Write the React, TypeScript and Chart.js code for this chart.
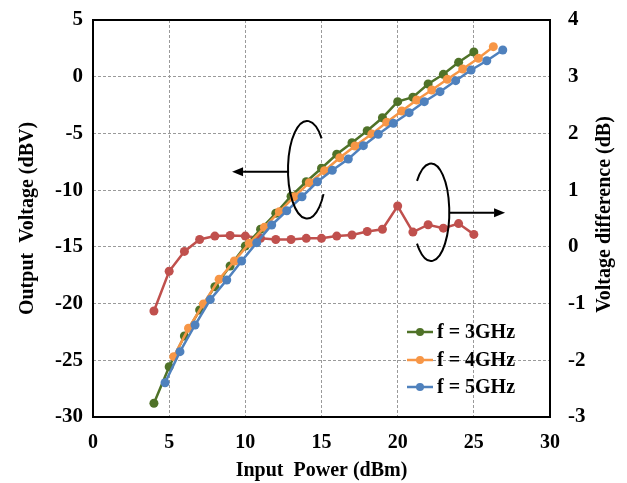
import React, { useEffect, useRef } from 'react';
import { Chart, registerables } from 'chart.js';

Chart.register(...registerables);

// ---- data ----
const xGreen = [4, 5, 6, 7, 8, 9, 10, 11, 12, 13, 14, 15, 16, 17, 18, 19, 20, 21, 22, 23, 24, 25];
const yGreen = [-28.79, -25.57, -22.86, -20.57, -18.51, -16.69, -14.92, -13.45, -12.04, -10.53, -9.26, -8.07, -6.84, -5.82, -4.76, -3.62, -2.2, -1.81, -0.64, 0.21, 1.27, 2.18];

const xOrange = [5.3, 6.27, 7.25, 8.28, 9.28, 10.26, 11.25, 12.23, 13.22, 14.2, 15.2, 16.2, 17.2, 18.3, 19.28, 20.27, 21.25, 22.24, 23.26, 24.27, 25.3, 26.28];
const yOrange = [-24.68, -22.18, -20.04, -17.86, -16.25, -14.69, -13.28, -11.9, -10.58, -9.34, -8.29, -7.14, -6.11, -5.06, -4.02, -3.02, -2.05, -1.17, -0.23, 0.68, 1.62, 2.65];

const xBlue = [4.73, 5.71, 6.7, 7.7, 8.78, 9.76, 10.75, 11.73, 12.72, 13.72, 14.73, 15.71, 16.76, 17.75, 18.73, 19.72, 20.75, 21.75, 22.78, 23.81, 24.82, 25.85, 26.9];
const yBlue = [-26.98, -24.24, -21.89, -19.65, -17.92, -16.25, -14.63, -13.07, -11.82, -10.58, -9.26, -8.25, -7.25, -6.08, -5.07, -4.11, -3.17, -2.2, -1.32, -0.35, 0.59, 1.41, 2.36];

const xRed = [4, 5, 6, 7, 8, 9, 10, 11, 12, 13, 14, 15, 16, 17, 18, 19, 20, 21, 22, 23, 24, 25];
const yRed = [-1.13, -0.43, -0.08, 0.13, 0.19, 0.2, 0.19, 0.15, 0.13, 0.13, 0.15, 0.15, 0.19, 0.21, 0.27, 0.31, 0.72, 0.26, 0.39, 0.33, 0.41, 0.22];

const seriesLabels = ['f = 3GHz', 'f = 4GHz', 'f = 5GHz'];
const xTitle = 'Input  Power (dBm)';
const yTitle = 'Output  Voltage (dBV)';
const y1Title = 'Voltage difference (dB)';

const COLORS = ['#4F7228', '#F79646', '#4F81BD'];
const RED = '#C0504D';
const FONT = '"Liberation Serif", "Times New Roman", serif';

const pts = (xs: number[], ys: number[]) => xs.map((x, i) => ({ x, y: ys[i] }));

const deg = Math.PI / 180;

function arrow(ctx: CanvasRenderingContext2D, x0: number, y0: number, x1: number, y1: number) {
  const dir = Math.sign(x1 - x0);
  const head = 11;
  ctx.beginPath();
  ctx.moveTo(x0, y0);
  ctx.lineTo(x1 - dir * head, y1);
  ctx.stroke();
  ctx.beginPath();
  ctx.moveTo(x1, y1);
  ctx.lineTo(x1 - dir * head, y1 - 4.5);
  ctx.lineTo(x1 - dir * head, y1 + 4.5);
  ctx.closePath();
  ctx.fill();
}

const decorPlugin = {
  id: 'decor',
  afterDatasetsDraw(chart: any) {
    const { ctx, chartArea: a, scales } = chart;
    const sx = scales.x, sy = scales.y, sy1 = scales.y1;
    ctx.save();
    // frame
    ctx.strokeStyle = '#000';
    ctx.lineWidth = 2;
    ctx.strokeRect(a.left, a.top, a.right - a.left, a.bottom - a.top);

    ctx.fillStyle = '#000';
    // left ellipse + arrow (left axis)
    {
      const cx = sx.getPixelForValue(14.05);
      const cy = sy.getPixelForValue(-8.2);
      const rx = sx.getPixelForValue(14.05 + 1.25) - cx;
      const ry = sy.getPixelForValue(-8.2 - 4.3) - cy;
      ctx.beginPath();
      ctx.ellipse(cx, cy, rx, ry, 0, -40 * deg, 30 * deg, true);
      ctx.stroke();
      const ay = sy.getPixelForValue(-8.37);
      arrow(ctx, sx.getPixelForValue(12.87), ay, sx.getPixelForValue(9.13), ay);
    }
    // right ellipse + arrow (right axis)
    {
      const cx = sx.getPixelForValue(22.19);
      const cy = sy1.getPixelForValue(0.61);
      const rx = sx.getPixelForValue(22.19 + 1.2) - cx;
      const ry = sy1.getPixelForValue(0.61 - 0.86) - cy;
      ctx.beginPath();
      ctx.ellipse(cx, cy, rx, ry, 0, -140 * deg, 140 * deg, false);
      ctx.stroke();
      const ay = sy1.getPixelForValue(0.6);
      arrow(ctx, sx.getPixelForValue(23.37), ay, sx.getPixelForValue(27.05), ay);
    }

    // legend
    const ds = chart.data.datasets;
    ctx.font = `bold 20px ${FONT}`;
    ctx.textBaseline = 'middle';
    ctx.textAlign = 'left';
    const lx = a.right - 143;
    const rows = [a.bottom - 85, a.bottom - 57, a.bottom - 30];
    for (let i = 0; i < 3; i++) {
      const c = ds[i].borderColor;
      const y = rows[i];
      ctx.strokeStyle = c;
      ctx.lineWidth = 2.5;
      ctx.beginPath();
      ctx.moveTo(lx, y);
      ctx.lineTo(lx + 26, y);
      ctx.stroke();
      ctx.fillStyle = c;
      ctx.beginPath();
      ctx.arc(lx + 13, y, 4, 0, Math.PI * 2);
      ctx.fill();
      ctx.fillStyle = '#000';
      ctx.fillText(ds[i].label, lx + 30, y + 1);
    }
    ctx.restore();
  },
  afterDraw(chart: any) {
    const { ctx, chartArea: a } = chart;
    ctx.save();
    ctx.font = `bold 20px ${FONT}`;
    ctx.fillStyle = '#000';
    ctx.textAlign = 'center';
    ctx.textBaseline = 'middle';
    ctx.translate(605, (a.top + a.bottom) / 2 - 4);
    ctx.rotate(-Math.PI / 2);
    ctx.fillText(y1Title, 0, 0);
    ctx.restore();
  },
};

export default function App() {
  const ref = useRef<HTMLCanvasElement | null>(null);
  useEffect(() => {
    document.body.style.margin = '0';
    const canvas = ref.current!;
    const tickFont = { family: FONT, size: 20, weight: 'bold' as const };
    const yTickFont = { family: FONT, size: 21, weight: 'bold' as const };
    const gridOpts = { color: '#9a9a9a', lineWidth: 1, drawTicks: false };
    const noPadV = (w: number) => (s: any) => {
      s.width = w;
      s.paddingTop = 0;
      s.paddingBottom = 0;
    };
    const chart = new Chart(canvas, {
      type: 'line',
      data: {
        datasets: [
          {
            label: seriesLabels[0],
            data: pts(xGreen, yGreen),
            borderColor: COLORS[0],
            backgroundColor: COLORS[0],
            yAxisID: 'y',
            order: 2,
          },
          {
            label: seriesLabels[1],
            data: pts(xOrange, yOrange),
            borderColor: COLORS[1],
            backgroundColor: COLORS[1],
            yAxisID: 'y',
            order: 1,
          },
          {
            label: seriesLabels[2],
            data: pts(xBlue, yBlue),
            borderColor: COLORS[2],
            backgroundColor: COLORS[2],
            yAxisID: 'y',
            order: 0,
          },
          {
            label: 'difference',
            data: pts(xRed, yRed),
            borderColor: RED,
            backgroundColor: RED,
            yAxisID: 'y1',
            order: 3,
          },
        ],
      },
      options: {
        animation: false,
        responsive: false,
        events: [],
        layout: { padding: { top: 20, left: 0, right: 0, bottom: 0 } },
        elements: {
          line: { borderWidth: 2.5, tension: 0 },
          point: { radius: 4.5, borderWidth: 0 },
        },
        plugins: {
          legend: { display: false },
          tooltip: { enabled: false },
        },
        scales: {
          x: {
            type: 'linear',
            min: 0,
            max: 30,
            ticks: { stepSize: 5, color: '#000', font: tickFont, padding: 14 },
            grid: gridOpts,
            border: { display: false, dash: [3, 2] },
            title: {
              display: true,
              text: xTitle,
              color: '#000',
              font: tickFont,
              padding: { top: 0, bottom: 0 },
            },
            afterFit: (s: any) => {
              s.height = 66;
              s.paddingLeft = 0;
              s.paddingRight = 0;
            },
          },
          y: {
            type: 'linear',
            position: 'left',
            min: -30,
            max: 5,
            ticks: { stepSize: 5, color: '#000', font: yTickFont, padding: 10 },
            grid: gridOpts,
            border: { display: false, dash: [3, 2] },
            title: {
              display: true,
              text: yTitle,
              color: '#000',
              font: tickFont,
              padding: { top: 16, bottom: 0 },
            },
            afterFit: noPadV(93),
          },
          y1: {
            type: 'linear',
            position: 'right',
            min: -3,
            max: 4,
            ticks: { stepSize: 1, color: '#000', font: yTickFont, padding: 18 },
            grid: { display: false, drawTicks: false },
            border: { display: false },
            afterFit: noPadV(77),
          },
        },
      },
      plugins: [decorPlugin],
    });
    return () => chart.destroy();
  }, []);
  return (
    <div style={{ width: 627, height: 483 }}>
      <canvas ref={ref} width={627} height={483} style={{ display: 'block' }} />
    </div>
  );
}
